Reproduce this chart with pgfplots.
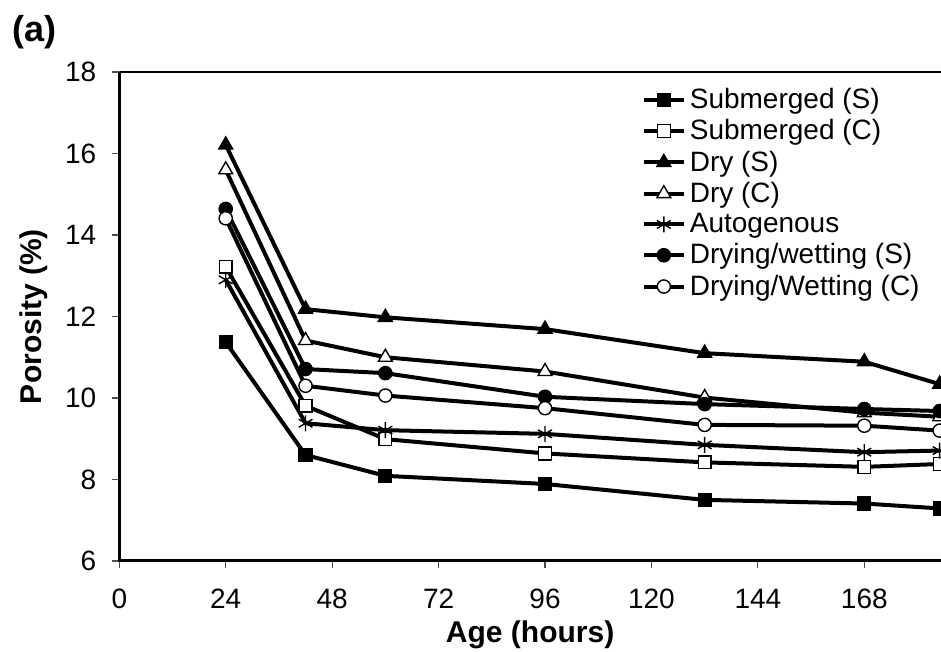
\documentclass[border=0pt]{standalone}
\usepackage{fontspec}
\setmainfont{Liberation Sans}
\usepackage{pgfplots}
\pgfplotsset{compat=1.18}
\begin{document}
\begin{tikzpicture}
\begin{axis}[
  scale only axis, width=410.85pt, height=244.5pt,
  xmin=0, xmax=185.3, ymin=6, ymax=18,
  xtick={0,24,48,72,96,120,144,168}, ytick={6,8,10,12,14,16,18},
  axis x line*=bottom, axis y line*=left,
  axis line style={line width=1.5pt, black},
  tick align=outside, major tick length=3.5pt,
  tick style={line width=0.6pt, black!70},
  /pgf/number format/assume math mode=true,
  tick label style={font=\fontsize{14}{16}\selectfont},
  xticklabel style={yshift=-7pt},
  yticklabel style={xshift=-4.5pt},
  xlabel={Age (hours)}, ylabel={Porosity (\%)},
  label style={font=\fontsize{15}{17}\selectfont\bfseries},
  xlabel style={at={(axis description cs:0.5,-0.151)}, anchor=center},
  ylabel style={at={(axis description cs:-0.104,0.5)}, anchor=center},
  clip=true,
  legend style={draw=none, fill=none, font=\fontsize{14}{15.6}\selectfont,
    at={(axis description cs:0.633,0.98)}, anchor=north west, row sep=0pt,
    inner sep=1pt},
  legend cell align=left,
  legend image code/.code={\draw[mark repeat=2,mark phase=2,#1] plot coordinates {(0pt,0pt)(10pt,0pt)(20pt,0pt)};},
  every axis plot/.append style={line width=2pt, black},
]
\addplot[mark=square*, mark size=3.2pt, mark options={solid, fill=black, line width=0.7pt}]
  coordinates {(24,11.37)(42,8.60)(60,8.09)(96,7.89)(132,7.50)(168,7.41)(185,7.29)};
\addlegendentry{Submerged (S)}
\addplot[mark=square*, mark size=3.2pt, mark options={solid, fill=white, line width=0.7pt}]
  coordinates {(24,13.22)(42,9.81)(60,8.99)(96,8.64)(132,8.42)(168,8.31)(185,8.38)};
\addlegendentry{Submerged (C)}
\addplot[mark=triangle*, mark size=4pt, mark options={solid, fill=black, line width=0.7pt}]
  coordinates {(24,16.21)(42,12.18)(60,11.98)(96,11.69)(132,11.10)(168,10.89)(185,10.34)};
\addlegendentry{Dry (S)}
\addplot[mark=triangle*, mark size=4pt, mark options={solid, fill=white, line width=0.7pt}]
  coordinates {(24,15.60)(42,11.41)(60,11.00)(96,10.65)(132,10.01)(168,9.64)(185,9.54)};
\addlegendentry{Dry (C)}
\addplot[mark=asterisk, mark size=4pt, mark options={solid, line width=0.7pt}]
  coordinates {(24,12.90)(42,9.38)(60,9.21)(96,9.12)(132,8.85)(168,8.67)(185,8.71)};
\addlegendentry{Autogenous}
\addplot[mark=*, mark size=3.3pt, mark options={solid, fill=black, line width=0.7pt}]
  coordinates {(24,14.64)(42,10.71)(60,10.61)(96,10.03)(132,9.85)(168,9.73)(185,9.68)};
\addlegendentry{Drying/wetting (S)}
\addplot[mark=*, mark size=3.3pt, mark options={solid, fill=white, line width=0.7pt}]
  coordinates {(24,14.41)(42,10.30)(60,10.06)(96,9.75)(132,9.34)(168,9.32)(185,9.20)};
\addlegendentry{Drying/Wetting (C)}
\draw[line width=1.5pt, black] (rel axis cs:0,1) -- (rel axis cs:1,1);
\end{axis}
\node[font=\fontsize{18}{20}\selectfont\bfseries, anchor=center] at ([xshift=-42.6pt,yshift=20pt]current axis.north west) {(a)};
\pgfresetboundingbox
\path[use as bounding box] ([xshift=-59.65pt,yshift=-45.5pt]current axis.south west) rectangle ([yshift=36pt]current axis.north east);
\end{tikzpicture}
\end{document}
